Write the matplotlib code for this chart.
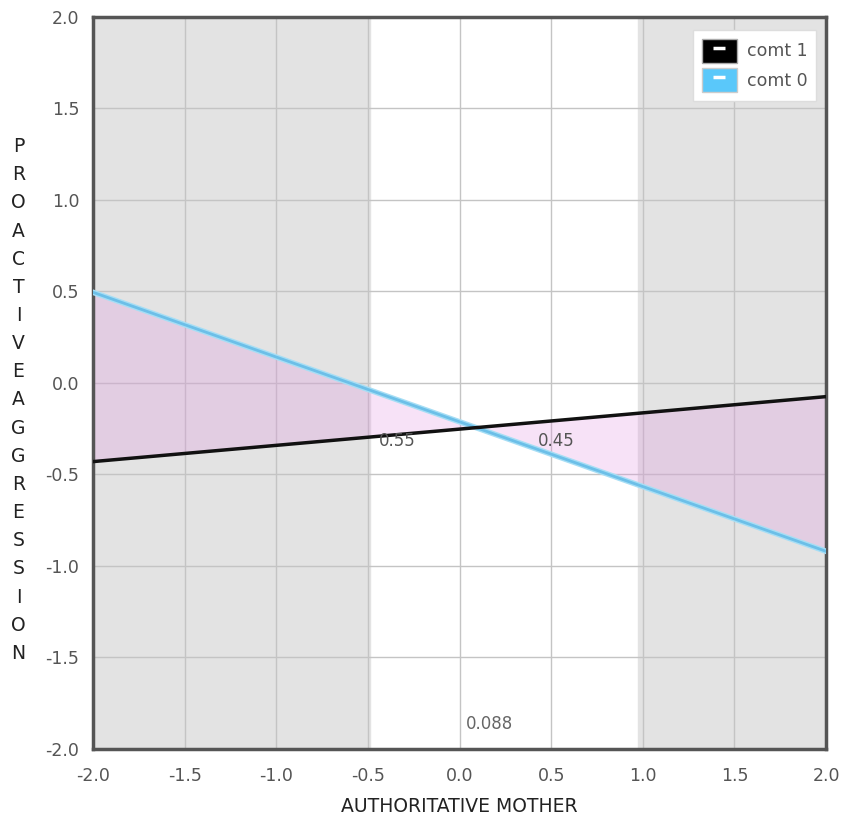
import matplotlib.pyplot as plt
from matplotlib.patches import Patch
from matplotlib.lines import Line2D

# simple slopes of proactive aggression on authoritative mother, by comt group
x_range = [-2.0, 2.0]
comt1_y = [-0.43, -0.075]
comt0_y = [0.495, -0.92]
crossover_x = 0.088
region_bounds = [-0.49, 0.975]   # regions of significance outside these
area_labels = ['0.55', '0.45']
area_label_x = [-0.34, 0.53]
area_label_y = -0.32

ticks = [-2.0, -1.5, -1.0, -0.5, 0.0, 0.5, 1.0, 1.5, 2.0]
ylabel = 'PROACTIVEAGGRESSION'

fig = plt.figure(figsize=(8.42, 8.23), dpi=100)
ax = fig.add_axes([0.1105, 0.0900, 0.8705, 0.8895])

ax.set_xlim(x_range)
ax.set_ylim(-2.0, 2.0)

# shaded regions of significance
ax.axvspan(x_range[0], region_bounds[0], color='#e3e3e3', zorder=0)
ax.axvspan(region_bounds[1], x_range[1], color='#e3e3e3', zorder=0)

ax.set_xticks(ticks)
ax.set_yticks(ticks)
ax.set_xticklabels([f'{t:.1f}' for t in ticks])
ax.set_yticklabels([f'{t:.1f}' for t in ticks])
ax.grid(True, color='#c4c4c4', linewidth=1, zorder=1)
ax.tick_params(length=0, labelsize=12.5, labelcolor='#555555')
ax.tick_params(axis='x', pad=13)
ax.tick_params(axis='y', pad=10)

# area between the two lines
ax.fill_between(x_range, comt1_y, comt0_y, color='#e08ce0', alpha=0.25,
                linewidth=0, zorder=2)

ax.plot(x_range, comt1_y, color='#111111', linewidth=2.5, zorder=4)
ax.plot(x_range, comt0_y, color='#a6def5', linewidth=4, zorder=3)
ax.plot(x_range, comt0_y, color='#6cbfe8', linewidth=2, zorder=3)

for lab, lx in zip(area_labels, area_label_x):
    ax.text(lx, area_label_y, lab, ha='center', va='center', fontsize=12,
            color='#555555', zorder=5)
ax.text(crossover_x + 0.078, -1.865, '0.088', ha='center', va='center',
        fontsize=12, color='#666666', zorder=5)

for s in ax.spines.values():
    s.set_color('#555555')
    s.set_linewidth(2.5)

ax.set_xlabel('AUTHORITATIVE MOTHER', fontsize=13.5, color='#222222', labelpad=9)

# vertical stacked y label
fig.text(0.022, 0.514, '\n'.join(ylabel), ha='center', va='center',
         fontsize=13.5, color='#222222', linespacing=1.61)

# legend: coloured boxes with a white dash
dash = dict(marker='_', markersize=8, markeredgewidth=2.5, color='white', linestyle='none')
leg_handles = [(Patch(facecolor='black', edgecolor='#aaaaaa'), Line2D([], [], **dash)),
               (Patch(facecolor='#5ac8fa', edgecolor='#cccccc'), Line2D([], [], **dash))]
leg = ax.legend(leg_handles, ['comt 1', 'comt 0'], loc='upper right',
                fontsize=12.5, frameon=True, fancybox=False, edgecolor='#dddddd',
                framealpha=1, handlelength=2.0, handleheight=1.75,
                handletextpad=0.6, borderpad=0.5, labelspacing=0.3,
                borderaxespad=0, bbox_to_anchor=(0.987, 0.982))
for t in leg.get_texts():
    t.set_color('#555555')

fig.savefig('out.png', dpi=100)
